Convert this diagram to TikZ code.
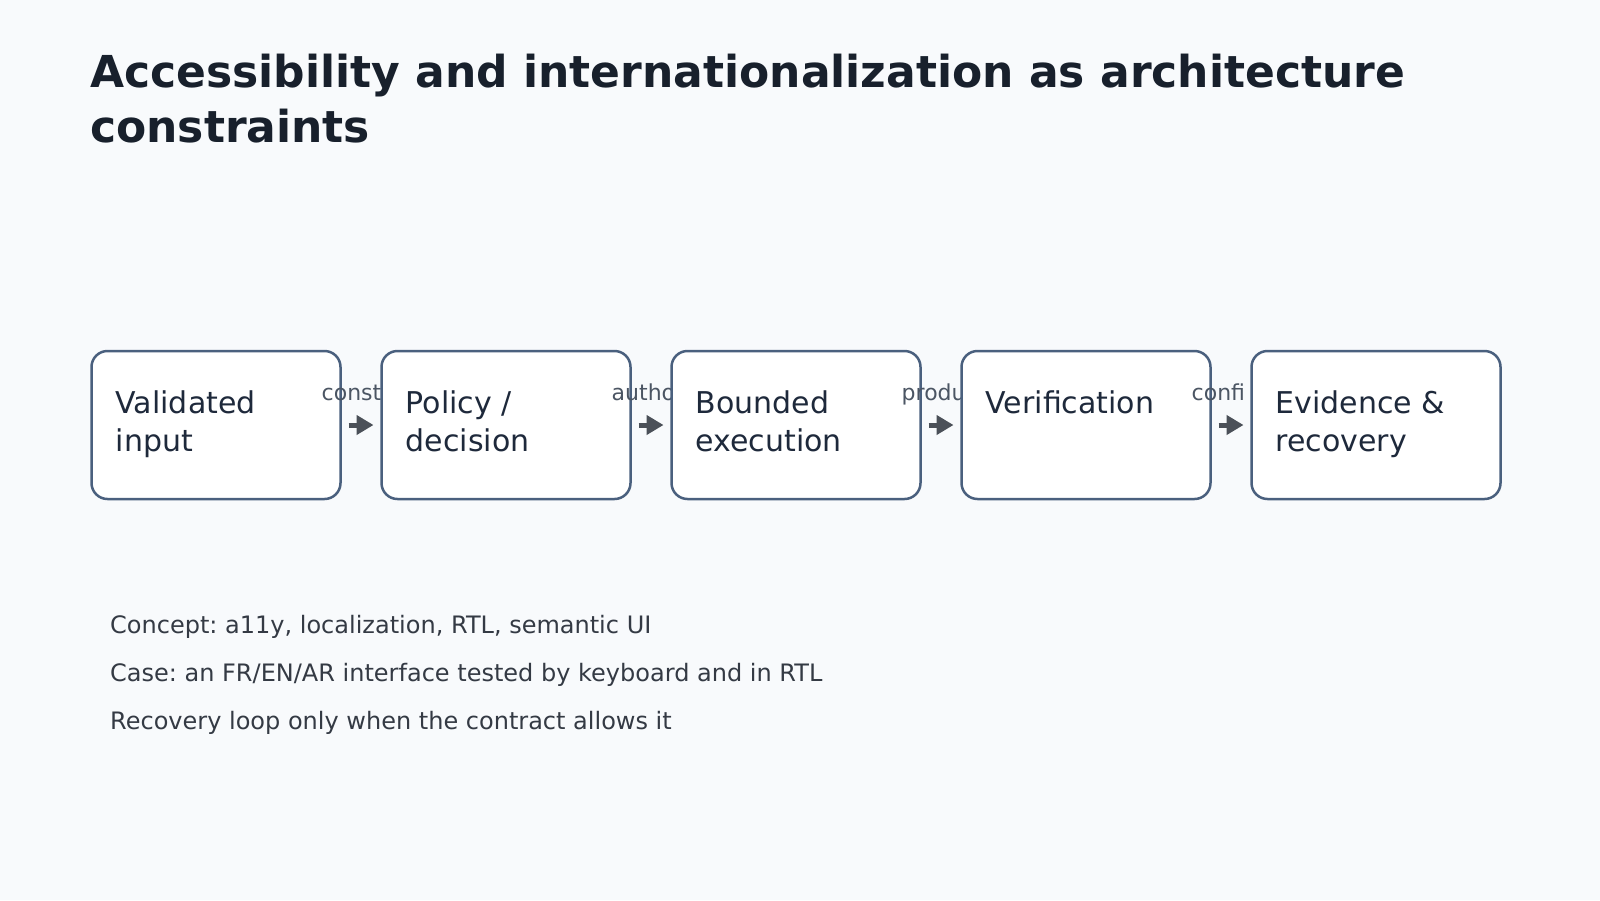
\documentclass[tikz,border=0pt]{standalone}
\usepackage{fontspec}
\setmainfont{DejaVu Sans}
\frenchspacing
\usetikzlibrary{positioning, arrows.meta}
\definecolor{pagebg}{HTML}{F8FAFC}
\definecolor{titleink}{HTML}{18202C}
\definecolor{boxline}{HTML}{4A607E}
\definecolor{boxink}{HTML}{1E293B}
\definecolor{edgeink}{HTML}{4B5563}
\definecolor{noteink}{HTML}{343A44}
\definecolor{arrowink}{HTML}{4B5058}

\begin{document}
\begin{tikzpicture}[x=1pt, y=-1pt, node distance=41pt,
		stage/.style={draw=boxline, line width=2.5pt, fill=white, rounded corners=16pt, minimum width=249pt, minimum height=148pt, inner sep=0pt, outer sep=0pt},
		stagetxt/.style={anchor=north west, inner sep=0pt, align=left, text=boxink, font=\fontsize{30}{38}\selectfont},
		flowlbl/.style={anchor=base west, inner sep=0pt, text=edgeink, font=\fontsize{22}{26}\selectfont},
		flow/.style={draw=arrowink, line width=5pt, shorten <=8pt, shorten >=8pt, -{Triangle[length=17pt, width=19pt]}},
		note/.style={anchor=base west, inner sep=0pt, text=noteink, font=\fontsize{24}{29}\selectfont}]
		\useasboundingbox (0,0) rectangle (1600,900);
		\fill[pagebg] (0,0) rectangle (1600,900);
		\node[anchor=base west, inner sep=0pt, align=left, text=titleink, font=\fontsize{44}{55}\selectfont\bfseries] (title) at (90,142) {Accessibility and internationalization as architecture\\constraints};
		% pipeline
		\node[stage] (V) at (216,425) {}; \node[stagetxt] (Vt) at ([xshift=24pt, yshift=-39pt]V.north west) {Validated\\input};
		\node[flowlbl] (l1) at ([xshift=-19pt, yshift=25pt]V.east) {const};
		\node[stage] (P) [right=of V] {}; \node[stagetxt] (Pt) at ([xshift=24pt, yshift=-39pt]P.north west) {Policy /\\decision};
		\node[flowlbl] (l2) at ([xshift=-19pt, yshift=25pt]P.east) {autho};
		\node[stage] (B) [right=of P] {}; \node[stagetxt] (Bt) at ([xshift=24pt, yshift=-39pt]B.north west) {Bounded\\execution};
		\node[flowlbl] (l3) at ([xshift=-19pt, yshift=25pt]B.east) {produ};
		\node[stage] (Ve) [right=of B] {}; \node[stagetxt] (Vet) at ([xshift=24pt, yshift=-39pt]Ve.north west) {Verification};
		\node[flowlbl] (l4) at ([xshift=-19pt, yshift=25pt]Ve.east) {confi};
		\node[stage] (E) [right=of Ve] {}; \node[stagetxt] (Et) at ([xshift=24pt, yshift=-39pt]E.north west) {Evidence \&\\recovery};
		\draw[flow] (V) -- (P); \draw[flow] (P) -- (B); \draw[flow] (B) -- (Ve); \draw[flow] (Ve) -- (E);
		% notes
		\node[note] (n1) at (110,633) {Concept: a11y, localization, RTL, semantic UI};
		\node[note] (n2) at ([yshift=-48pt]n1.base west) {Case: an FR/EN/AR interface tested by keyboard and in RTL};
		\node[note] (n3) at ([yshift=-48pt]n2.base west) {Recovery loop only when the contract allows it};
	\end{tikzpicture}
\end{document}
